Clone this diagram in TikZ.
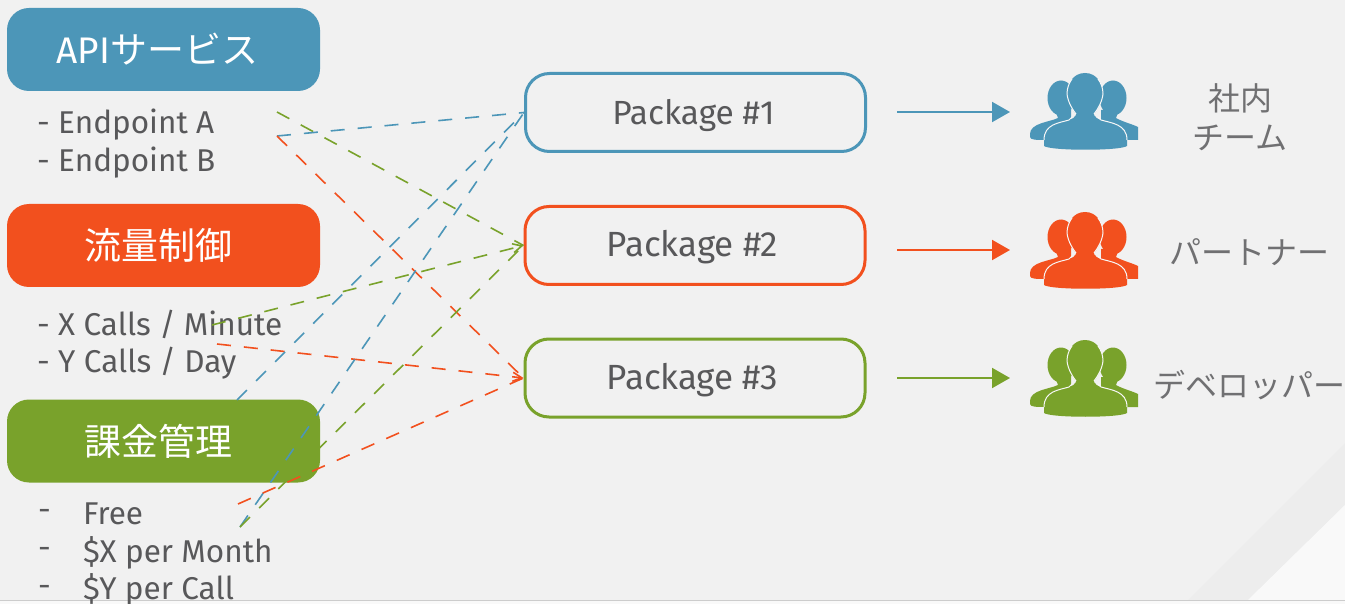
\documentclass[tikz,border=0pt]{standalone}
\usepackage{fontspec}
\setmainfont{Fira Sans}
\newfontfamily\cjk{Noto Sans CJK JP}
\usetikzlibrary{arrows.meta}
\definecolor{cblue}{HTML}{4C96B8}
\definecolor{cred}{HTML}{F2501E}
\definecolor{cgreen}{HTML}{79A22B}
\definecolor{ctext}{HTML}{58585A}
\definecolor{clabel}{HTML}{707072}
\newcommand{\pkgtext}[2]{\raisebox{#1}[0pt][0pt]{#2}}
\tikzset{
  headbox/.style={draw=none,rounded corners=22pt,minimum width=313pt,minimum height=83pt,inner sep=0pt,text=white,font=\fontsize{37}{40}\selectfont},
  pkg/.style={draw=#1,line width=3pt,fill=none,rounded corners=24pt,minimum width=340pt,minimum height=78pt,inner sep=0pt,text=ctext,font=\fontsize{33.5}{36}\selectfont},
  pkgwide/.style={pkg=#1,font=\fontsize{35}{38}\selectfont},
  lst/.style={inner sep=0pt,anchor=west,text=ctext,font=\fontsize{31.5}{38}\selectfont},
  lbl/.style={inner sep=0pt,text=clabel,font=\cjk\fontsize{32}{39}\selectfont,align=center},
  flow/.style={draw=#1,line width=1.6pt,dash pattern=on 14pt off 13pt},
  flowtip/.style={flow=#1,-{Straight Barb[length=9pt,width=9pt]}},
  solidarrow/.style={draw=#1,line width=2pt,-{Triangle[length=18pt,width=20pt,fill=#1]}},
}
\newcommand{\people}[3]{%
 \begin{scope}[shift={(#1,#2)}]
  \fill[#3] (-24,-14) ellipse (13.5 and 17.5);
  \fill[#3] (28,-14) ellipse (13.5 and 17.5);
  \fill[#3] (-30,-2) -- (-27,6) .. controls (-35,10) and (-55,11) .. (-55,22) -- (-55,25) .. controls (-55,28) and (-48,28) .. (-40,28) -- (-14,28) -- (-14,-2) -- cycle;
  \fill[#3] (34,-2) -- (31,6) .. controls (38,10) and (47,12) .. (53,15) -- (53,28) -- (16,28) -- (16,-2) -- cycle;
  \fill[#3] (-8,-4) rectangle (8,12);
  \fill[#3] (-9,-3) .. controls (-7,1) and (-9,6) .. (-16,8)
    .. controls (-26,11) and (-41,12) .. (-41,28) -- (-41,34)
    .. controls (-34,39) and (35,39) .. (42,34) -- (42,28)
    .. controls (42,12) and (26,11) .. (16,8)
    .. controls (9,6) and (7,1) .. (9,-3) -- cycle;
  \draw[black!3,line width=1pt] (-41,28) .. controls (-41,12) and (-26,11) .. (-16,8) -- (-13,5);
  \draw[black!3,line width=1pt] (42,28) .. controls (42,12) and (26,11) .. (16,8) -- (13,5);
  \fill[#3] (0,-39) .. controls (12,-39) and (18,-28) .. (18,-18)
    .. controls (17,-8) and (10,2) .. (6,6) -- (-6,6)
    .. controls (-10,2) and (-17,-8) .. (-18,-18)
    .. controls (-18,-28) and (-12,-39) .. (0,-39) -- cycle;
  \draw[black!3,line width=1pt] (-9,2) .. controls (-13,-3) and (-17,-10) .. (-18,-18) .. controls (-18,-24) and (-16,-29) .. (-13,-33);
  \draw[black!3,line width=1pt] (9,2) .. controls (13,-3) and (17,-10) .. (18,-18) .. controls (18,-24) and (16,-29) .. (13,-33);
 \end{scope}}
\begin{document}
\begin{tikzpicture}[x=1pt,y=-1pt]
\useasboundingbox (0,0) rectangle (1345,604);
\fill[fill=black!5.5] (0,0) rectangle (1345,604);
\fill[black!7] (1188,600) -- (1345,443) -- (1345,505) -- (1248,600) -- cycle;
\fill[black!2.5] (1248,600) -- (1345,505) -- (1345,600) -- cycle;
\fill[black!2.5] (0,601) rectangle (1345,604);
\draw[black!20,line width=1.5pt] (0,600.5) -- (1345,600.5);

\node[headbox,fill=cblue] (h1) at (163.5,49.5) {\hspace*{-12pt}API{\cjk サービス}};
\node[headbox,fill=cred] (h2) at (163.5,245.5) {\hspace*{-11pt}\cjk 流量制御};
\node[headbox,fill=cgreen] (h3) at (163.5,441) {\hspace*{-11pt}\cjk 課金管理};

\node[lst] (e1) at (37,125) {- Endpoint A};
\node[lst] (e2) at (37,163) {- Endpoint B};
\node[lst] (c1) at (37,324) {- X Calls / Minute};
\node[lst] (c2) at (37,363) {- Y Calls / Day};
\node[lst] (p0) at (38,515) {-};
\node[lst] (p1) at (83,514) {Free};
\node[lst] (q0) at (38,553) {-};
\node[lst] (q1) at (83,553) {\$X per Month};
\node[lst] (r0) at (38,591) {-};
\node[lst] (r1) at (83,590) {\$Y per Call};

\node[pkg=cblue] (P1) at (695.5,112.5) {\hspace*{-4pt}\pkgtext{-12pt}{Package \#1}};
\node[pkgwide=cred] (P2) at (695,245.5) {\hspace*{-5pt}\pkgtext{-11pt}{Package \#2}};
\node[pkgwide=cgreen] (P3) at (695,378) {\hspace*{-5pt}\pkgtext{-11pt}{Package \#3}};

\coordinate (ga) at (277,112);
\coordinate (bb) at (277,136);
\coordinate (gx) at (212,325);
\coordinate (ry) at (217,344);
\coordinate (bt) at (237,400);
\coordinate (rf) at (238,504);
\coordinate (bm) at (240,527);
\coordinate (gm) at (240,527);

\draw[flow=cgreen] (ga) -- (P2.west);
\draw[flow=cblue] (bb) -- (P1.west);
\draw[flow=cred] (bb) -- (P3.west);
\draw[flowtip=cgreen] (gx) -- (P2.west);
\draw[flowtip=cred] (ry) -- (P3.west);
\draw[flow=cblue] (bt) -- (P1.west);
\draw[flow=cblue] (bm) -- (P1.west);
\draw[flow=cgreen] (gm) -- (P2.west);
\draw[flow=cred] (rf) -- (P3.west);

\people{1085}{112}{cblue}
\people{1085}{251}{cred}
\people{1085}{379}{cgreen}
\coordinate (a1) at (897,112);
\coordinate (a2) at (897,250);
\coordinate (a3) at (897,378);
\coordinate (t1) at (1010,112);
\coordinate (t2) at (1010,250);
\coordinate (t3) at (1010,378);
\draw[solidarrow=cblue] (a1) -- (t1);
\draw[solidarrow=cred] (a2) -- (t2);
\draw[solidarrow=cgreen] (a3) -- (t3);

\node[lbl] (l1) at (1240,117) {社内\\チーム};
\node[lbl] (l2) at (1249,252) {パートナー};
\node[lbl] (l3) at (1249,385) {デベロッパー};
\end{tikzpicture}
\end{document}
